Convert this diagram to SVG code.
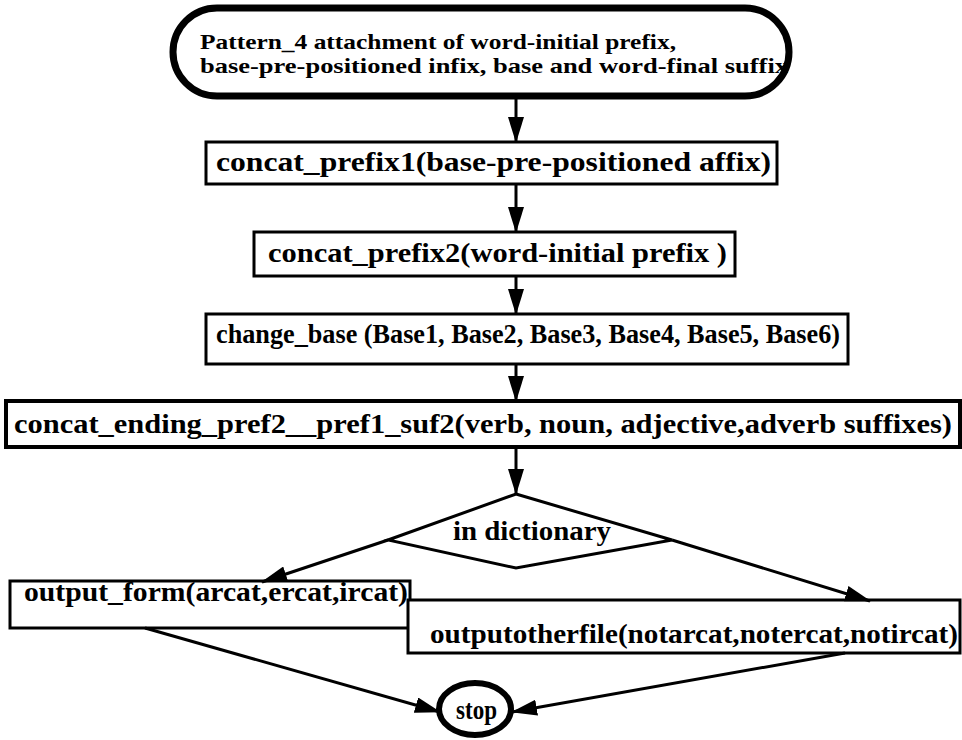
<svg xmlns="http://www.w3.org/2000/svg" width="962" height="740" viewBox="0 0 962 740">
<defs>
<style>
.box{fill:#fff;stroke:#000;stroke-width:3}
.thick{fill:#fff;stroke:#000;stroke-width:7}
.t{font-family:"Liberation Serif","Times New Roman",serif;font-weight:bold;font-size:27px;fill:#000}
.tt{font-size:21px}
.c{fill:none;stroke:#000;stroke-width:3}
</style>
<marker id="ah" markerUnits="userSpaceOnUse" markerWidth="26" markerHeight="16" refX="25" refY="8" orient="auto">
<path d="M0,0 L26,8 L0,16 z" fill="#000"/>
</marker>
</defs>
<rect width="962" height="740" fill="#fff"/>
<g id="start">
<rect class="thick" x="173" y="8" width="616" height="88" rx="44" ry="44"/>
<text class="t tt" x="200" y="49" textLength="476" lengthAdjust="spacingAndGlyphs">Pattern_4 attachment of word-initial prefix,</text>
<text class="t tt" x="200" y="73" textLength="588" lengthAdjust="spacingAndGlyphs">base-pre-positioned infix,  base and word-final suffix</text>
</g>
<g id="n1">
<rect class="box" x="206" y="142" width="571" height="42"/>
<text class="t" x="216" y="171" textLength="555" lengthAdjust="spacingAndGlyphs">concat_prefix1(base-pre-positioned  affix)</text>
</g>
<g id="n2">
<rect class="box" x="254" y="232" width="481" height="44"/>
<text class="t" x="268" y="262" textLength="459" lengthAdjust="spacingAndGlyphs">concat_prefix2(word-initial prefix )</text>
</g>
<g id="n3">
<rect class="box" x="206" y="314" width="642" height="50"/>
<text class="t" x="216" y="343" textLength="624" lengthAdjust="spacingAndGlyphs">change_base (Base1, Base2, Base3, Base4, Base5, Base6)</text>
</g>
<g id="n4">
<rect class="box" x="6" y="401" width="954" height="46" style="stroke-width:4"/>
<text class="t" x="14" y="433" textLength="938" lengthAdjust="spacingAndGlyphs">concat_ending_pref2__pref1_suf2(verb, noun, adjective,adverb suffixes)</text>
</g>
<g id="decision">
<polygon class="box" points="516,494 672,540 516,568 388,540"/>
<text class="t" x="453" y="540" textLength="158" lengthAdjust="spacingAndGlyphs">in dictionary</text>
</g>
<g id="n5">
<rect class="box" x="10" y="581" width="400" height="47"/>
<text class="t" x="24" y="601" textLength="384" lengthAdjust="spacingAndGlyphs">output_form(arcat,ercat,ircat)</text>
</g>
<g id="n6">
<rect class="box" x="408" y="600" width="552" height="53"/>
<text class="t" x="430" y="643" textLength="528" lengthAdjust="spacingAndGlyphs">outputotherfile(notarcat,notercat,notircat)</text>
</g>
<g id="stop">
<ellipse class="thick" cx="475" cy="709" rx="36" ry="26" style="stroke-width:6"/>
<text class="t" x="456" y="719" textLength="41" lengthAdjust="spacingAndGlyphs">stop</text>
</g>
<g id="connectors">
<line class="c" x1="516" y1="99" x2="516" y2="142" marker-end="url(#ah)"/>
<line class="c" x1="516" y1="184" x2="516" y2="232" marker-end="url(#ah)"/>
<line class="c" x1="516" y1="276" x2="516" y2="314" marker-end="url(#ah)"/>
<line class="c" x1="516" y1="364" x2="516" y2="401" marker-end="url(#ah)"/>
<line class="c" x1="516" y1="447" x2="516" y2="494" marker-end="url(#ah)"/>
<line class="c" x1="388" y1="540" x2="262" y2="582" marker-end="url(#ah)"/>
<line class="c" x1="672" y1="540" x2="870" y2="601" marker-end="url(#ah)"/>
<line class="c" x1="145" y1="628" x2="440" y2="712" marker-end="url(#ah)"/>
<line class="c" x1="845" y1="653" x2="512" y2="712" marker-end="url(#ah)"/>
</g>
</svg>
